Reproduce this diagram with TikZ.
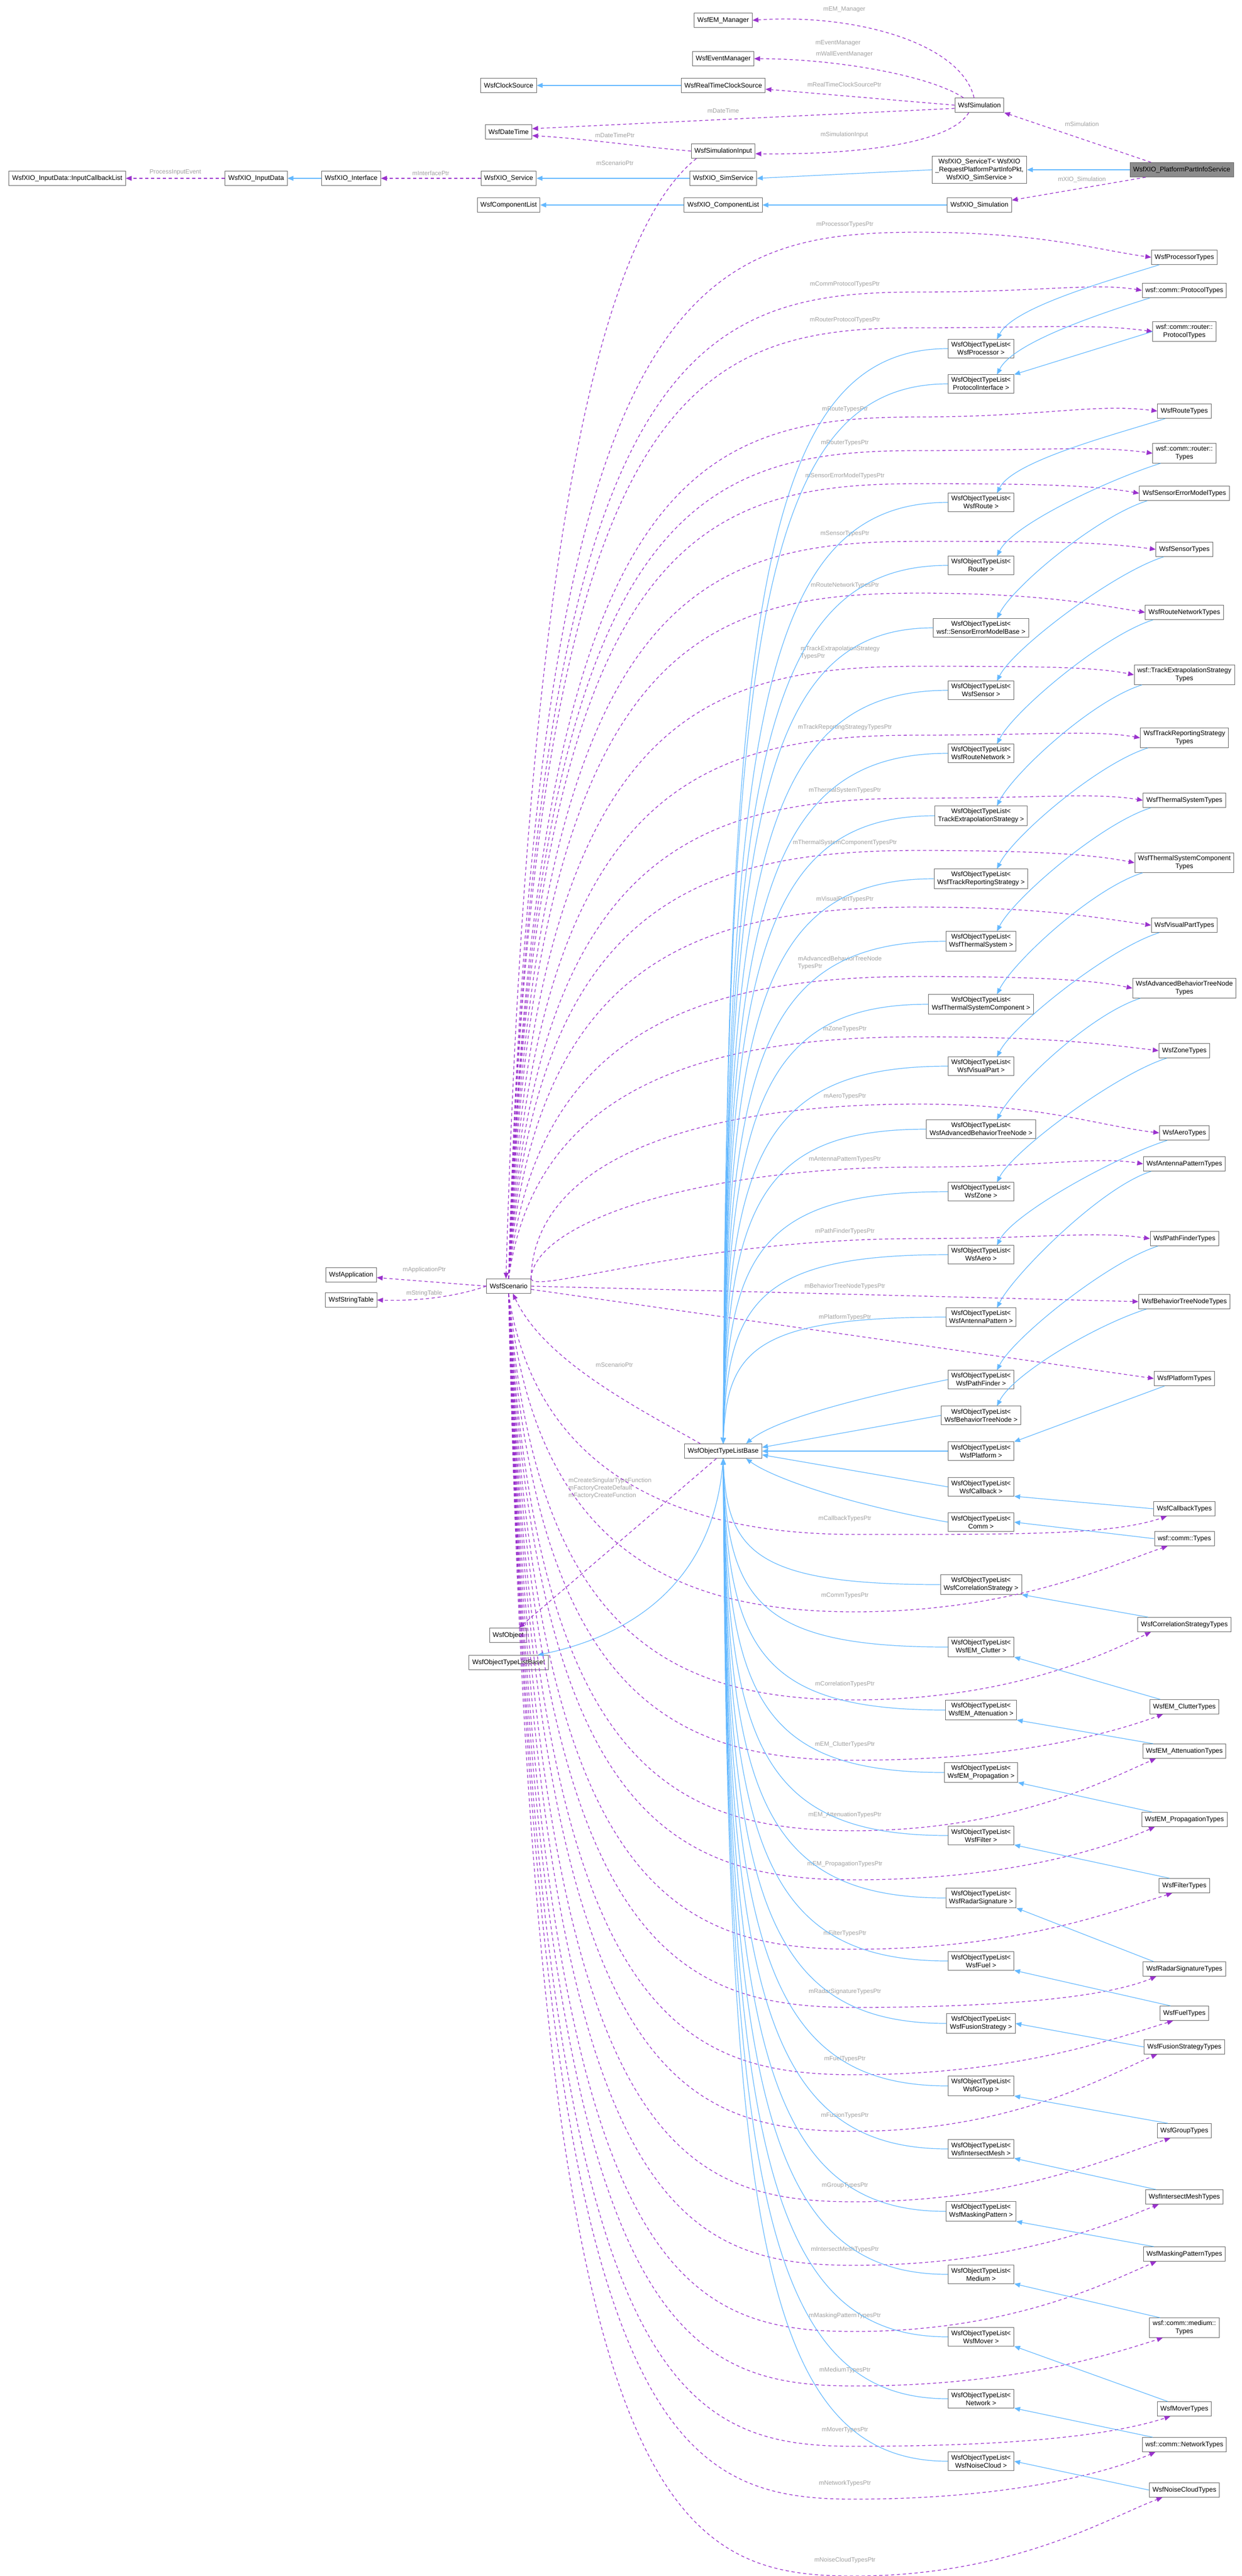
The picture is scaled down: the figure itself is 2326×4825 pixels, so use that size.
\documentclass[tikz,border=0pt]{standalone}
\usepackage{fontspec}
\setmainfont{Liberation Sans}
\usetikzlibrary{arrows.meta,calc}
\definecolor{inhc}{HTML}{63B8FF}
\definecolor{usec}{HTML}{9A32CD}
\definecolor{lblc}{HTML}{A0A0A0}
\tikzset{
 cls/.style={draw=black!60,fill=white,line width=1pt,font=\fontsize{12.5}{15}\selectfont,inner xsep=6pt,inner ysep=5pt,minimum height=27pt,align=center},
 inh/.style={draw=inhc,line width=1.2pt,-{Triangle[length=11pt,width=9pt]}},
 use/.style={draw=usec,line width=1.3pt,dash pattern=on 6pt off 5pt,-{Triangle[length=11pt,width=9pt]}},
 lbl/.style={text=lblc,font=\fontsize{11.5}{14}\selectfont,inner sep=1pt},
}
\newcommand\tnode[3]{\node[cls] (#1) at (2219,#2) {#3};}
\newcommand\onode[3]{\node[cls] (#1) at (1838,#2) {WsfObjectTypeList<\\#3 >};}
\newcommand\useup[5]{\draw[use] (#1) .. controls (1000,#4+120) and (1300,#4+14) .. (1720,#4+14) .. controls (1950,#4+14) and (2050,#3-15) .. (#2.west);
 \node[lbl] at (1583,#4) {#5};}
\newcommand\usedn[4]{\draw[use] (sc.south) .. controls (1000,#3-100) and (1250,#3+30) .. (1600,#3+30) .. controls (1900,#3+30) and (2080,#2+50) .. ($(#1.south west)+(25,0)$);
 \node[lbl] at (1583,#3) {#4};}
\newcommand\baseup[2]{\draw[inh] (#1.west) .. controls (1420,#2) and (1362,{#2+0.25*(2705-#2)}) .. (base.north);}
\newcommand\basedn[2]{\draw[inh] (#1.west) .. controls (1420,#2) and (1362,{#2-0.25*(#2-2731)}) .. (base.south);}
\newcommand\tup[2]{\draw[inh] ($(#1.south west)+(15,0)$) .. controls ($(#1.south west)+(-80,30)$) and ($(#2.north)+(60,-60)$) .. ($(#2.north)+(30,0)$);}
\newcommand\tdn[2]{\draw[inh] ($(#1.north west)+(20,0)$) -- (#2.south east);}
\begin{document}
\begin{tikzpicture}[x=1pt,y=-1pt]
\useasboundingbox (0,0) rectangle (2326,4825);
\node[cls] (cs) at (953,160) {WsfClockSource};
\node[cls] (dt) at (953,247) {WsfDateTime};
\node[cls] (icl) at (126,334) {WsfXIO\_InputData::InputCallbackList};
\node[cls] (ind) at (480,334) {WsfXIO\_InputData};
\node[cls] (itf) at (658,334) {WsfXIO\_Interface};
\node[cls] (xsv) at (953,334) {WsfXIO\_Service};
\node[cls] (cl) at (953,384) {WsfComponentList};
\node[cls] (em) at (1355,38) {WsfEM\_Manager};
\node[cls] (ev) at (1355,110) {WsfEventManager};
\node[cls] (rtc) at (1355,160) {WsfRealTimeClockSource};
\node[cls] (si) at (1355,283) {WsfSimulationInput};
\node[cls] (xss) at (1355,334) {WsfXIO\_SimService};
\node[cls] (xcl) at (1355,384) {WsfXIO\_ComponentList};
\node[cls] (sim) at (1835,197) {WsfSimulation};
\node[cls] (svt) at (1835,318) {WsfXIO\_ServiceT< WsfXIO\\\_RequestPlatformPartInfoPkt,\\ WsfXIO\_SimService >};
\node[cls] (xsim) at (1835,384) {WsfXIO\_Simulation};
\node[cls,fill=black!45] (pp) at (2214,318) {WsfXIO\_PlatformPartInfoService};
\node[cls] (app) at (658,2388) {WsfApplication};
\node[cls] (st) at (658,2435) {WsfStringTable};
\node[cls] (sc) at (953,2409) {WsfScenario};
\node[cls] (obj) at (952,3063) {WsfObject};
\node[cls] (basei) at (953,3114) {WsfObjectTypeListBaseI};
\node[cls] (base) at (1355,2718) {WsfObjectTypeListBase};
\onode{oProc}{653}{WsfProcessor}
\onode{oProt}{719}{ProtocolInterface}
\onode{oRoute}{941}{WsfRoute}
\onode{oRouter}{1059}{Router}
\onode{oSem}{1176}{wsf::SensorErrorModelBase}
\onode{oSens}{1293}{WsfSensor}
\onode{oRN}{1411}{WsfRouteNetwork}
\onode{oTE}{1528}{TrackExtrapolationStrategy}
\onode{oTR}{1646}{WsfTrackReportingStrategy}
\onode{oTS}{1763}{WsfThermalSystem}
\onode{oTSC}{1881}{WsfThermalSystemComponent}
\onode{oVP}{1997}{WsfVisualPart}
\onode{oABT}{2115}{WsfAdvancedBehaviorTreeNode}
\onode{oZone}{2232}{WsfZone}
\onode{oAero}{2350}{WsfAero}
\onode{oAnt}{2467}{WsfAntennaPattern}
\onode{oPF}{2584}{WsfPathFinder}
\onode{oBT}{2651}{WsfBehaviorTreeNode}
\onode{oPlat}{2718}{WsfPlatform}
\onode{oCb}{2785}{WsfCallback}
\onode{oComm}{2851}{Comm}
\onode{oCorr}{2968}{WsfCorrelationStrategy}
\onode{oClut}{3085}{WsfEM\_Clutter}
\onode{oAtt}{3203}{WsfEM\_Attenuation}
\onode{oProp}{3320}{WsfEM\_Propagation}
\onode{oFilt}{3438}{WsfFilter}
\onode{oRad}{3555}{WsfRadarSignature}
\onode{oFuel}{3673}{WsfFuel}
\onode{oFus}{3790}{WsfFusionStrategy}
\onode{oGrp}{3907}{WsfGroup}
\onode{oIM}{4025}{WsfIntersectMesh}
\onode{oMP}{4142}{WsfMaskingPattern}
\onode{oMed}{4260}{Medium}
\onode{oMov}{4377}{WsfMover}
\onode{oNet}{4493}{Network}
\onode{oNC}{4610}{WsfNoiseCloud}
\tnode{tProc}{482}{WsfProcessorTypes}
\tnode{tCP}{544}{wsf::comm::ProtocolTypes}
\tnode{tRP}{621}{wsf::comm::router::\\ProtocolTypes}
\tnode{tRoute}{770}{WsfRouteTypes}
\tnode{tRT}{849}{wsf::comm::router::\\Types}
\tnode{tSem}{924}{WsfSensorErrorModelTypes}
\tnode{tSens}{1029}{WsfSensorTypes}
\tnode{tRN}{1147}{WsfRouteNetworkTypes}
\tnode{tTE}{1264}{wsf::TrackExtrapolationStrategy\\Types}
\tnode{tTR}{1382}{WsfTrackReportingStrategy\\Types}
\tnode{tTS}{1499}{WsfThermalSystemTypes}
\tnode{tTSC}{1616}{WsfThermalSystemComponent\\Types}
\tnode{tVP}{1733}{WsfVisualPartTypes}
\tnode{tABT}{1851}{WsfAdvancedBehaviorTreeNode\\Types}
\tnode{tZone}{1968}{WsfZoneTypes}
\tnode{tAero}{2122}{WsfAeroTypes}
\tnode{tAnt}{2180}{WsfAntennaPatternTypes}
\tnode{tPF}{2320}{WsfPathFinderTypes}
\tnode{tBT}{2438}{WsfBehaviorTreeNodeTypes}
\tnode{tPlat}{2582}{WsfPlatformTypes}
\tnode{tCb}{2826}{WsfCallbackTypes}
\tnode{tComm}{2882}{wsf::comm::Types}
\tnode{tCorr}{3043}{WsfCorrelationStrategyTypes}
\tnode{tClut}{3197}{WsfEM\_ClutterTypes}
\tnode{tAtt}{3280}{WsfEM\_AttenuationTypes}
\tnode{tProp}{3408}{WsfEM\_PropagationTypes}
\tnode{tFilt}{3532}{WsfFilterTypes}
\tnode{tRad}{3688}{WsfRadarSignatureTypes}
\tnode{tFuel}{3771}{WsfFuelTypes}
\tnode{tFus}{3834}{WsfFusionStrategyTypes}
\tnode{tGrp}{3991}{WsfGroupTypes}
\tnode{tIM}{4115}{WsfIntersectMeshTypes}
\tnode{tMP}{4222}{WsfMaskingPatternTypes}
\tnode{tMed}{4360}{wsf::comm::medium::\\Types}
\tnode{tMov}{4512}{WsfMoverTypes}
\tnode{tNet}{4579}{wsf::comm::NetworkTypes}
\tnode{tNC}{4664}{WsfNoiseCloudTypes}
\draw[use] (ind.west) -- (icl.east) node[lbl,midway,above=4pt] {ProcessInputEvent};
\draw[inh] (itf.west) -- (ind.east);
\draw[use] (xsv.west) -- (itf.east) node[lbl,midway,above=4pt] {mInterfacePtr};
\draw[inh] (xss.west) -- (xsv.east);
\draw[inh] (svt.west) -- (xss.east);
\draw[inh] (pp.west) -- (svt.east);
\draw[inh] (xsim.west) -- (xcl.east);
\draw[inh] (xcl.west) -- (cl.east);
\draw[inh] (rtc.west) -- (cs.east);
\draw[use] ($(pp.north west)+(40,0)$) -- (sim.south east);
\node[lbl] at (2027,232) {mSimulation};
\draw[use] ($(pp.south west)+(30,0)$) -- ($(xsim.north east)+(0,5)$);
\node[lbl] at (2027,336) {mXIO\_Simulation};
\draw[use] ($(sim.north)+(-10,0)$) .. controls (1800,80) and (1600,25) .. (em.east);
\node[lbl] at (1582,18) {mEM\_Manager};
\draw[use] ($(sim.north)+(-30,0)$) .. controls (1740,140) and (1560,110) .. (ev.east);
\node[lbl] at (1570,81) {mEventManager};
\node[lbl] at (1582,102) {mWallEventManager};
\draw[use] (sim.west) -- ($(rtc.east)+(0,7)$);
\node[lbl] at (1582,158) {mRealTimeClockSourcePtr};
\draw[use] ($(sim.west)+(0,6)$) -- ($(dt.east)+(0,-6)$);
\node[lbl] at (1355,207) {mDateTime};
\draw[use] ($(sim.south)+(-20,0)$) .. controls (1780,270) and (1600,290) .. ($(si.east)+(0,5)$);
\node[lbl] at (1582,253) {mSimulationInput};
\draw[use] (si.west) .. controls (1200,275) and (1100,260) .. ($(dt.east)+(0,7)$);
\node[lbl] at (1152,253) {mDateTimePtr};
\draw[use] ($(si.south west)+(10,0)$) .. controls (1150,420) and (990,900) .. ($(sc.north)+(-5,0)$);
\node[lbl] at (1152,305) {mScenarioPtr};
\draw[use] (sc.west) -- ($(app.east)+(0,5)$);
\node[lbl] at (795,2378) {mApplicationPtr};
\draw[use] (sc.west) .. controls (850,2430) and (780,2437) .. (st.east);
\node[lbl] at (795,2422) {mStringTable};
\draw[use] ($(base.north west)+(30,0)$) .. controls (1200,2640) and (1020,2550) .. ($(sc.south)+(8,0)$);
\node[lbl] at (1151,2556) {mScenarioPtr};
\draw[use] ($(base.south west)+(60,0)$) -- ($(obj.north)+(20,0)$);
\node[lbl,anchor=west,align=left] at (1064,2787) {mCreateSingularTypeFunction\\mFactoryCreateDefault\\mFactoryCreateFunction};
\draw[inh] (base.south) .. controls (1340,2950) and (1200,3060) .. ($(basei.north east)+(-20,0)$);
\useup{sc.north}{tProc}{482}{421}{mProcessorTypesPtr}
\useup{sc.north}{tCP}{544}{533}{mCommProtocolTypesPtr}
\useup{sc.north}{tRP}{621}{600}{mRouterProtocolTypesPtr}
\useup{sc.north}{tRoute}{770}{767}{mRouteTypesPtr}
\useup{sc.north}{tRT}{849}{830}{mRouterTypesPtr}
\useup{sc.north}{tSem}{924}{892}{mSensorErrorModelTypesPtr}
\useup{sc.north}{tSens}{1029}{1000}{mSensorTypesPtr}
\useup{sc.north}{tRN}{1147}{1097}{mRouteNetworkTypesPtr}
\useup{sc.north}{tTE}{1264}{1234}{}
\node[lbl,anchor=west,align=left] at (1499,1223) {mTrackExtrapolationStrategy\\TypesPtr};
\useup{sc.north}{tTR}{1382}{1363}{mTrackReportingStrategyTypesPtr}
\useup{sc.north}{tTS}{1499}{1481}{mThermalSystemTypesPtr}
\useup{sc.north}{tTSC}{1616}{1579}{mThermalSystemComponentTypesPtr}
\useup{sc.north}{tVP}{1733}{1685}{mVisualPartTypesPtr}
\useup{sc.north}{tABT}{1851}{1815}{}
\node[lbl,anchor=west,align=left] at (1494,1804) {mAdvancedBehaviorTreeNode\\TypesPtr};
\useup{sc.north}{tZone}{1968}{1928}{mZoneTypesPtr}
\useup{sc.north east}{tAero}{2122}{2054}{mAeroTypesPtr}
\useup{sc.north east}{tAnt}{2180}{2172}{mAntennaPatternTypesPtr}
\useup{sc.north east}{tPF}{2320}{2306}{mPathFinderTypesPtr}
\draw[use] (sc.east) -- (tBT.west);
\node[lbl] at (1583,2409) {mBehaviorTreeNodeTypesPtr};
\draw[use] ($(sc.east)+(0,6)$) -- (tPlat.west);
\node[lbl] at (1583,2467) {mPlatformTypesPtr};
\usedn{tCb}{2826}{2844}{mCallbackTypesPtr}
\usedn{tComm}{2882}{2989}{mCommTypesPtr}
\usedn{tCorr}{3043}{3154}{mCorrelationTypesPtr}
\usedn{tClut}{3197}{3267}{mEM\_ClutterTypesPtr}
\usedn{tAtt}{3280}{3399}{mEM\_AttenuationTypesPtr}
\usedn{tProp}{3408}{3491}{mEM\_PropagationTypesPtr}
\usedn{tFilt}{3532}{3621}{mFilterTypesPtr}
\usedn{tRad}{3688}{3730}{mRadarSignatureTypesPtr}
\usedn{tFuel}{3771}{3856}{mFuelTypesPtr}
\usedn{tFus}{3834}{3962}{mFusionTypesPtr}
\usedn{tGrp}{3991}{4094}{mGroupTypesPtr}
\usedn{tIM}{4115}{4213}{mIntersectMeshTypesPtr}
\usedn{tMP}{4222}{4337}{mMaskingPatternTypesPtr}
\usedn{tMed}{4360}{4439}{mMediumTypesPtr}
\usedn{tMov}{4512}{4552}{mMoverTypesPtr}
\usedn{tNet}{4579}{4651}{mNetworkTypesPtr}
\usedn{tNC}{4664}{4795}{mNoiseCloudTypesPtr}
\baseup{oProc}{653}\baseup{oProt}{719}\baseup{oRoute}{941}\baseup{oRouter}{1059}
\baseup{oSem}{1176}\baseup{oSens}{1293}\baseup{oRN}{1411}\baseup{oTE}{1528}
\baseup{oTR}{1646}\baseup{oTS}{1763}\baseup{oTSC}{1881}\baseup{oVP}{1997}
\baseup{oABT}{2115}\baseup{oZone}{2232}\baseup{oAero}{2350}\baseup{oAnt}{2467}
\draw[inh] (oPF.west) .. controls (1600,2620) and (1450,2660) .. ($(base.north east)+(-30,0)$);
\draw[inh] (oBT.west) -- ($(base.east)+(0,-7)$);
\draw[inh] (oPlat.west) -- (base.east);
\draw[inh] (oCb.west) -- ($(base.east)+(0,7)$);
\draw[inh] (oComm.west) .. controls (1600,2820) and (1450,2770) .. ($(base.south east)+(-30,0)$);
\basedn{oCorr}{2968}\basedn{oClut}{3085}\basedn{oAtt}{3203}\basedn{oProp}{3320}
\basedn{oFilt}{3438}\basedn{oRad}{3555}\basedn{oFuel}{3673}\basedn{oFus}{3790}
\basedn{oGrp}{3907}\basedn{oIM}{4025}\basedn{oMP}{4142}\basedn{oMed}{4260}
\basedn{oMov}{4377}\basedn{oNet}{4493}\basedn{oNC}{4610}
\tup{tProc}{oProc}\tup{tCP}{oProt}\draw[inh] (tRP.west) -- (oProt.north east);
\tup{tRoute}{oRoute}\tup{tRT}{oRouter}\tup{tSem}{oSem}\tup{tSens}{oSens}
\tup{tRN}{oRN}\tup{tTE}{oTE}\tup{tTR}{oTR}\tup{tTS}{oTS}\tup{tTSC}{oTSC}
\tup{tVP}{oVP}\tup{tABT}{oABT}\tup{tZone}{oZone}\tup{tAero}{oAero}\tup{tAnt}{oAnt}
\tup{tPF}{oPF}\tup{tBT}{oBT}\draw[inh] ($(tPlat.south west)+(20,0)$) -- (oPlat.north east);
\draw[inh] (tCb.west) -- (oCb.south east);
\draw[inh] (tComm.west) -- (oComm.east);
\tdn{tCorr}{oCorr}\tdn{tClut}{oClut}\tdn{tAtt}{oAtt}\tdn{tProp}{oProp}
\tdn{tFilt}{oFilt}\tdn{tRad}{oRad}\tdn{tFuel}{oFuel}\draw[inh] (tFus.west) -- (oFus.east);
\tdn{tGrp}{oGrp}\tdn{tIM}{oIM}\tdn{tMP}{oMP}\tdn{tMed}{oMed}\tdn{tMov}{oMov}
\tdn{tNet}{oNet}\draw[inh] (tNC.west) -- (oNC.east);
\end{tikzpicture}
\end{document}
